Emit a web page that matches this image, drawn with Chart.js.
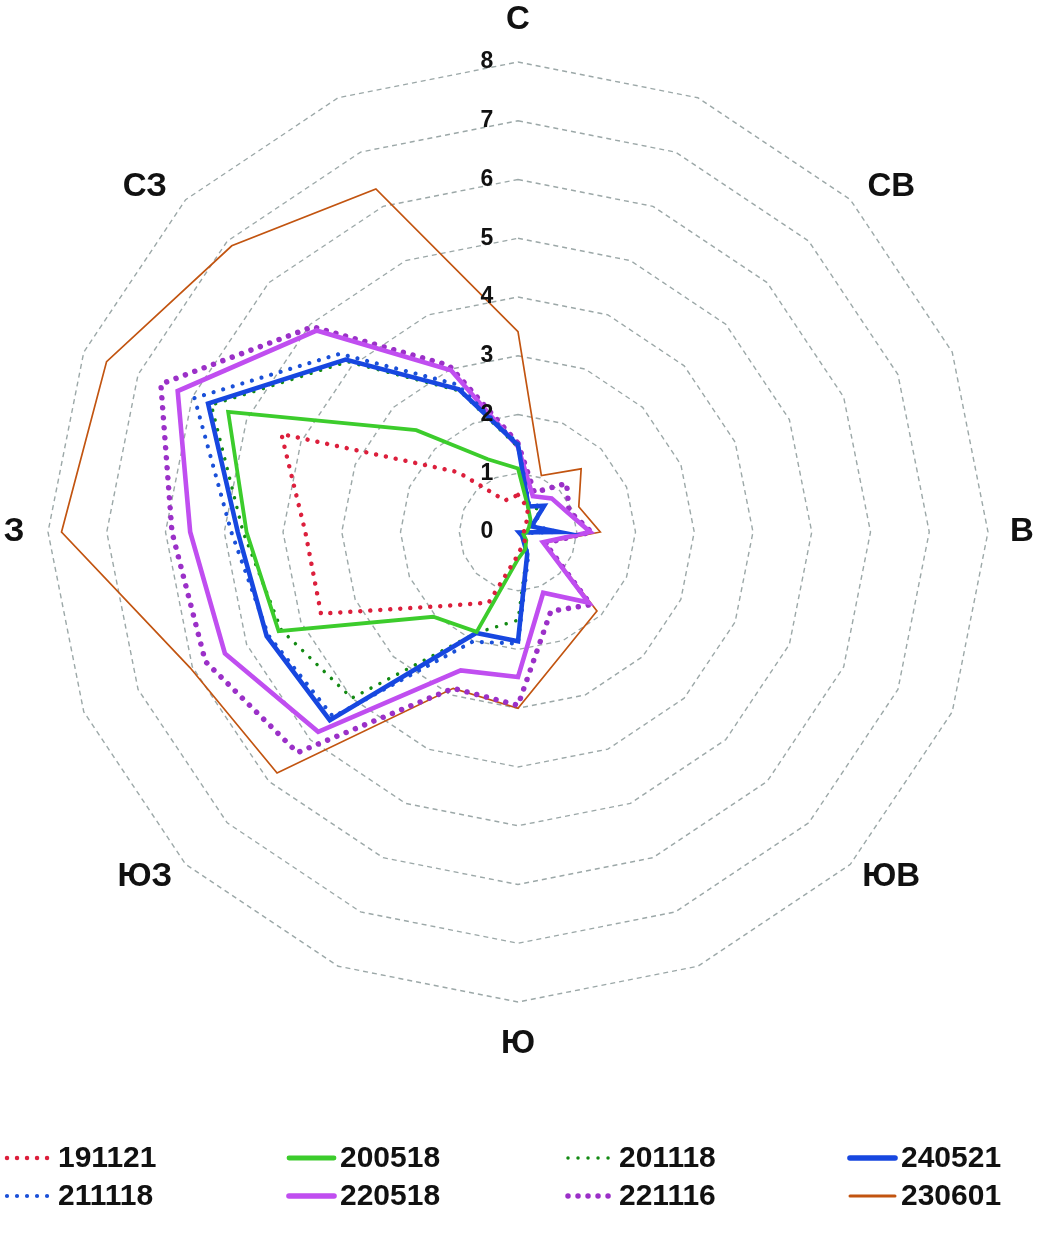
<!DOCTYPE html>
<html>
<head>
<meta charset="utf-8">
<script src="https://cdn.jsdelivr.net/npm/chart.js@4.4.1/dist/chart.umd.min.js"></script>
<style>
  html, body { margin: 0; padding: 0; background: #fff; }
  canvas { display: block; }
</style>
</head>
<body>
<canvas id="windChart" width="1040" height="1241"></canvas>
<script>
// 16 румбов, по часовой от севера; подписаны только основные
const directions = ['С', '', 'СВ', '', 'В', '', 'ЮВ', '', 'Ю', '', 'ЮЗ', '', 'З', '', 'СЗ', ''];
const rings = [0, 1, 2, 3, 4, 5, 6, 7, 8];

// значения по румбам (С, ССВ, СВ, ВСВ, В, ВЮВ, ЮВ, ЮЮВ, Ю, ЮЮЗ, ЮЗ, ЗЮЗ, З, ЗСЗ, СЗ, ССЗ)
const s191121 = [0.63, 0.44, 0.20, 0.12, 0.10, 0.12, 0.18, 0.22, 0.39, 1.30, 1.78, 3.63, 3.62, 4.36, 1.44, 0.58];
const s200518 = [1.08, 0.45, 0.30, 0.20, 0.15, 0.10, 0.20, 0.32, 0.46, 1.84, 2.04, 4.41, 4.62, 5.34, 2.45, 1.34];
const s201118 = [1.45, 0.45, 0.55, 0.25, 0.60, 0.05, 0.15, 0.40, 1.50, 1.86, 4.00, 4.36, 4.68, 5.65, 4.10, 2.60];
const s240521 = [1.48, 0.47, 0.63, 0.25, 0.70, 0.02, 0.10, 0.41, 1.86, 1.86, 4.53, 4.63, 4.77, 5.71, 4.15, 2.63];
const s211118 = [1.50, 0.50, 0.62, 0.28, 0.68, 0.05, 0.15, 0.45, 1.90, 2.02, 4.45, 4.60, 4.88, 5.96, 4.29, 2.72];
const s220518 = [1.45, 0.66, 0.81, 0.90, 1.23, 0.46, 1.70, 1.12, 2.47, 2.55, 4.81, 5.40, 5.58, 6.27, 4.85, 2.98];
const s221116 = [1.51, 0.73, 1.17, 0.94, 1.25, 0.50, 1.75, 1.46, 2.95, 2.88, 5.31, 5.76, 5.89, 6.58, 4.94, 3.07];
const s230601 = [3.41, 1.04, 1.52, 1.12, 1.40, 0.49, 1.90, 2.15, 3.00, 2.88, 5.80, 6.04, 7.77, 7.58, 6.89, 6.32];

const FONT = 'Arial, "Liberation Sans", sans-serif';

function line(label, data, color, width, dotted, order) {
    return {
        label: label,
        data: data,
        borderColor: color,
        backgroundColor: color,
        borderWidth: width,
        borderDash: dotted ? [0.01, 10] : [],
        borderCapStyle: dotted ? 'round' : 'butt',
        fill: false,
        pointRadius: 0,
        pointHoverRadius: 0,
        tension: 0,
        order: order,
        dotted: dotted
    };
}

// подписи колец, румбов и легенда
const extrasPlugin = {
    id: 'extras',
    afterDraw(chart) {
        const ctx = chart.ctx;
        const r = chart.scales.r;
        ctx.save();
        ctx.fillStyle = '#111';
        ctx.textAlign = 'center';
        ctx.textBaseline = 'middle';

        // значения колец
        ctx.font = 'bold 23px ' + FONT;
        rings.forEach(v => {
            let y = r.yCenter - r.getDistanceFromCenterForValue(v);
            ctx.fillText(String(v), r.xCenter - 31, y);
        });

        // румбы
        ctx.font = 'bold 33px ' + FONT;
        directions.forEach((d, i) => {
            if (!d) return;
            let a = i * 2 * Math.PI / directions.length;
            let s = Math.sin(a), c = Math.cos(a);
            let p;
            if (Math.abs(s) < 0.01 || Math.abs(c) < 0.01) {
                p = r.getPointPosition(i, r.drawingArea + 34 + 8 * Math.abs(c));
            } else {
                // диагональные подписи сдвинуты вбок
                p = r.getPointPosition(i, r.drawingArea + 38);
                p = { x: p.x + Math.sign(s) * 14, y: p.y + Math.sign(c) * 14 };
            }
            ctx.fillText(d, p.x, p.y);
        });

        // легенда 4 x 2
        const cols = [5, 287, 566, 848];
        const rows = [1158, 1196];
        ctx.font = 'bold 30px ' + FONT;
        ctx.textAlign = 'left';
        chart.data.datasets.forEach((ds, i) => {
            let x = cols[i % 4];
            let y = rows[Math.floor(i / 4)];
            ctx.beginPath();
            ctx.strokeStyle = ds.borderColor;
            ctx.lineWidth = ds.dotted ? ds.borderWidth : Math.max(ds.borderWidth + 1, 3);
            ctx.setLineDash(ds.dotted ? [0.01, 10] : []);
            ctx.lineCap = ds.dotted ? 'round' : 'round';
            ctx.moveTo(x + 2, y);
            ctx.lineTo(x + 47, y);
            ctx.stroke();
            ctx.setLineDash([]);
            ctx.fillStyle = '#111';
            ctx.fillText(ds.label, x + 53, y + 1);
        });
        ctx.restore();
    }
};

let ctx = document.getElementById('windChart').getContext('2d');

let chart = new Chart(ctx, {
    type: 'radar',
    data: {
        labels: directions,
        datasets: [
            line('191121', s191121, '#dc1f3c', 4.5, true, 1),
            line('200518', s200518, '#3ccc2c', 3.8, false, 2),
            line('201118', s201118, '#138a13', 3.5, true, 4),
            line('240521', s240521, '#1747e0', 4.6, false, 3),
            line('211118', s211118, '#1a50d8', 4.2, true, 5),
            line('220518', s220518, '#c04ef0', 4.6, false, 6),
            line('221116', s221116, '#9b30c8', 5.5, true, 7),
            line('230601', s230601, '#c25410', 1.7, false, 8)
        ]
    },
    options: {
        responsive: false,
        animation: false,
        devicePixelRatio: 1,
        layout: { padding: { left: 48, right: 52, top: 62, bottom: 239 } },
        plugins: {
            legend: { display: false },
            tooltip: { enabled: false }
        },
        scales: {
            r: {
                min: 0,
                max: 8,
                ticks: { stepSize: 1, display: false },
                pointLabels: { display: false },
                angleLines: { display: false },
                grid: { color: '#9ca8a8', lineWidth: 1.4 },
                border: { dash: [5, 4] }
            }
        }
    },
    plugins: [extrasPlugin]
});
</script>
</body>
</html>
